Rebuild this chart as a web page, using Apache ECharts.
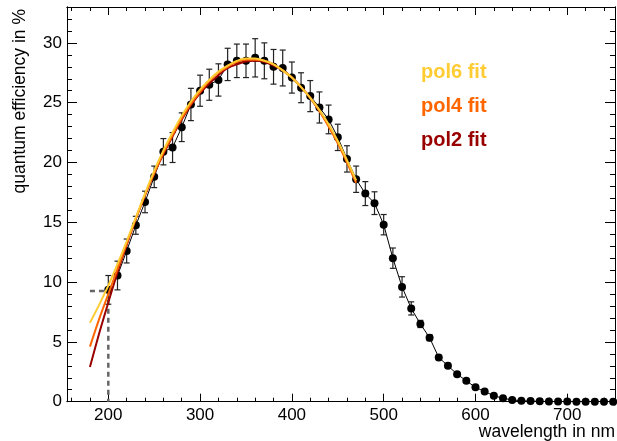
<!DOCTYPE html>
<html>
<head>
<meta charset="utf-8">
<script src="https://cdn.jsdelivr.net/npm/echarts@6/dist/echarts.min.js"></script>
<style>
html,body{margin:0;padding:0;background:#fff;}
#chart{width:617px;height:441px;}
</style>
</head>
<body>
<div id="chart"></div>
<script>
// ---- data ----
var wavelengths = [200,210,220,230,240,250,260,270,280,290,300,310,320,330,340,350,360,370,380,390,400,410,420,430,440,450,460,470,480,490,500,510,520,530,540,550,560,570,580,590,600,610,620,630,640,650,660,670,680,690,700,710,720,730,740,750];
var efficiency = [9.35,10.55,12.6,14.75,16.7,18.8,20.9,21.25,22.95,24.85,26.0,26.5,26.9,28.2,28.5,28.5,28.75,28.5,28.0,27.9,27.1,26.25,25.55,24.6,23.6,22.1,20.3,18.6,17.4,16.6,14.8,12.0,9.6,7.8,6.5,5.35,3.7,3.0,2.3,1.75,1.2,0.85,0.5,0.28,0.15,0.08,0.05,0.03,0.02,0.01,0.01,0,0,0,0,0];
var errors = [1.2,1.2,1.0,0.75,0.9,0.9,1.1,1.25,1.2,1.35,1.3,1.3,1.35,1.35,1.4,1.4,1.6,1.5,1.45,1.5,1.3,1.25,1.3,1.3,1.2,1.1,1.1,1.1,1.0,0.95,0.85,0.85,0.85,0.55,0.3,0.25,0.2,0.2,0.15,0.15,0.1,0.1,0.1,0.05,0.05,0,0,0,0,0,0,0,0,0,0,0];

var fitWavelengths = [180,190,200,210,220,230,240,250,260,270,280,290,300,310,320,330,340,350,360,370,380,390,400,410,420,430,440,450,460,470];
var pol2 = [2.9,5.7,8.3,10.8,13.1,15.3,17.25,19.1,20.7,22.2,23.6,24.8,25.8,26.6,27.3,27.9,28.2,28.45,28.5,28.4,28.1,27.7,27.1,26.3,25.4,24.3,23.1,21.7,20.1,18.4];
var pol4 = [4.6,6.9,9.0,11.1,13.2,15.3,17.3,19.1,20.8,22.3,23.7,24.9,25.9,26.8,27.5,28.0,28.4,28.6,28.6,28.5,28.2,27.7,27.1,26.3,25.4,24.3,23.0,21.6,20.0,18.3];
var pol6 = [6.6,8.1,9.7,11.5,13.4,15.4,17.4,19.3,21.0,22.5,23.9,25.1,26.1,26.9,27.6,28.1,28.5,28.7,28.7,28.5,28.2,27.7,27.1,26.3,25.4,24.4,23.2,21.8,20.2,18.5];

var markerWavelength = [180, 200, 200];
var markerEfficiency = [9.25, 9.25, 0];

var xMajorTicks = [200,300,400,500,600,700];
var xMinorTicks = [160,180,220,240,260,280,320,340,360,380,420,440,460,480,520,540,560,580,620,640,660,680,720,740];
var yMajorTicks = [0,5,10,15,20,25,30];
var yMinorTicks = [1,2,3,4,6,7,8,9,11,12,13,14,16,17,18,19,21,22,23,24,26,27,28,29,31,32];

var legendLabels = ['pol6 fit', 'pol4 fit', 'pol2 fit'];
var legendColors = ['#FFCC33', '#FF6600', '#990000'];

var xTitle = 'wavelength in nm';
var yTitle = 'quantum efficiency in %';

// ---- build ----
function pairs(xs, ys){ return xs.map(function(x,i){ return [x, ys[i]]; }); }
var errData = wavelengths.map(function(x,i){ return [x, efficiency[i]-errors[i], efficiency[i]+errors[i]]; });

var FONT = 'Liberation Sans, Arial, Helvetica, sans-serif';
var XMIN = 155, XMAX = 752, YMIN = 0, YMAX = 33;

function ax(pos, min, max, ticks, len, labels){
  return {type:'value', position:pos, min:min, max:max,
    axisLine:{show:true, onZero:false, lineStyle:{color:'#000', width:1}},
    axisTick:{show:true, inside:true, length:len, customValues:ticks, lineStyle:{color:'#000', width:1}},
    axisLabel:{show:labels, customValues:ticks, color:'#000', fontSize:17, fontFamily:FONT, margin:5},
    splitLine:{show:false}, minorTick:{show:false}, minorSplitLine:{show:false}};
}

var chart = echarts.init(document.getElementById('chart'), null, {renderer:'canvas'});
var fitSeries = [['pol2', pol2, legendColors[2]], ['pol4', pol4, legendColors[1]], ['pol6', pol6, legendColors[0]]].map(function(f){
  return {type:'line', name:f[0], data:pairs(fitWavelengths, f[1]), smooth:0.3, showSymbol:false, symbol:'none',
    lineStyle:{color:f[2], width:2}, z:5};
});

var option = {
  animation:false,
  grid:{left:67, right:2, top:7, bottom:39.3, containLabel:false},
  xAxis:[ax('bottom',XMIN,XMAX,xMajorTicks,8,true), ax('bottom',XMIN,XMAX,xMinorTicks,4,false),
         ax('top',XMIN,XMAX,xMajorTicks,8,false), ax('top',XMIN,XMAX,xMinorTicks,4,false)],
  yAxis:[ax('left',YMIN,YMAX,yMajorTicks,10,true), ax('left',YMIN,YMAX,yMinorTicks,5,false),
         ax('right',YMIN,YMAX,yMajorTicks,10,false), ax('right',YMIN,YMAX,yMinorTicks,5,false)],
  series:[
    {type:'line', name:'marker', data:pairs(markerWavelength, markerEfficiency), showSymbol:false, symbol:'none',
      lineStyle:{color:'#666', width:2.5, type:[5,4]}, z:1},
    {type:'custom', name:'errors', data:errData, z:2,
      renderItem:function(params, api){
        var x = api.value(0);
        var lo = api.coord([x, api.value(1)]);
        var hi = api.coord([x, api.value(2)]);
        var s = {stroke:'#222', lineWidth:1.2};
        return {type:'group', children:[
          {type:'line', shape:{x1:lo[0], y1:lo[1], x2:hi[0], y2:hi[1]}, style:s},
          {type:'line', shape:{x1:lo[0]-3, y1:lo[1], x2:lo[0]+3, y2:lo[1]}, style:s},
          {type:'line', shape:{x1:hi[0]-3, y1:hi[1], x2:hi[0]+3, y2:hi[1]}, style:s}
        ]};
      }},
    {type:'line', name:'data', data:pairs(wavelengths, efficiency), symbol:'circle', symbolSize:8, showSymbol:true,
      itemStyle:{color:'#000'}, lineStyle:{color:'#000', width:1}, z:3}
  ].concat(fitSeries),
  graphic:[
    {type:'text', x:421, y:72, style:{text:legendLabels[0], fill:legendColors[0], font:'bold 20px '+FONT, textVerticalAlign:'middle'}},
    {type:'text', x:421, y:106, style:{text:legendLabels[1], fill:legendColors[1], font:'bold 20px '+FONT, textVerticalAlign:'middle'}},
    {type:'text', x:421, y:140, style:{text:legendLabels[2], fill:legendColors[2], font:'bold 20px '+FONT, textVerticalAlign:'middle'}},
    {type:'text', x:615, y:432, style:{text:xTitle, fill:'#000', font:'17.5px '+FONT, textAlign:'right', textVerticalAlign:'middle'}},
    {type:'text', x:20, y:9, rotation:Math.PI/2, style:{text:yTitle, fill:'#000', font:'17.5px '+FONT, textAlign:'right', textVerticalAlign:'middle'}}
  ]
};
chart.setOption(option);
</script>
</body>
</html>
